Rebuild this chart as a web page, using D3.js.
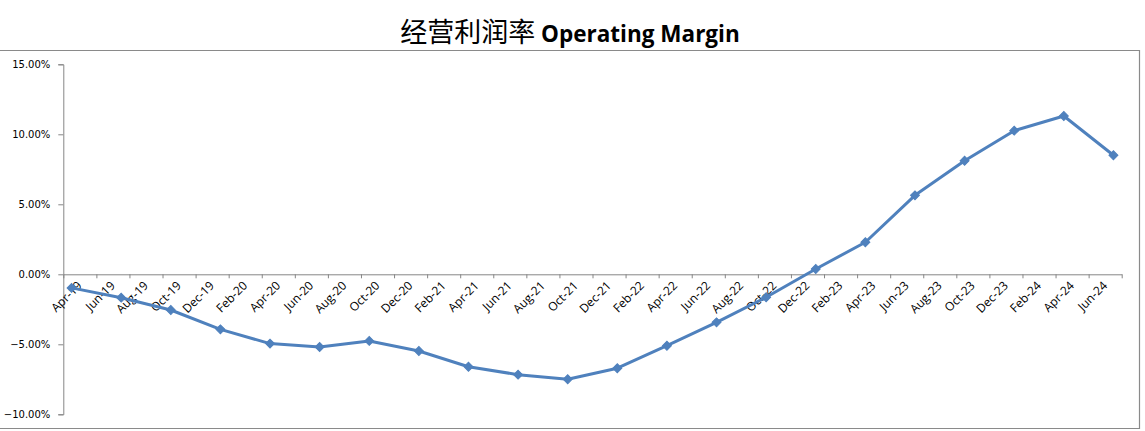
<!DOCTYPE html>
<html>
<head>
<meta charset="utf-8">
<script src="https://cdn.jsdelivr.net/npm/d3@7"></script>
<style>
  html, body { margin: 0; padding: 0; background: #fff; }
  svg { display: block; }
</style>
</head>
<body>
<svg id="chart" width="1145" height="431"></svg>
<script>
// ---- data (quarterly observations) ----
const pointMonths = ["2019-04","2019-07","2019-10","2020-01","2020-04","2020-07","2020-10","2021-01",
  "2021-04","2021-07","2021-10","2022-01","2022-04","2022-07","2022-10","2023-01",
  "2023-04","2023-07","2023-10","2024-01","2024-04","2024-07"];
const marginValues = [-0.97,-1.67,-2.55,-3.93,-4.95,-5.19,-4.76,-5.48,
  -6.60,-7.17,-7.50,-6.71,-5.10,-3.43,-1.64,0.38,
  2.29,5.64,8.11,10.26,11.31,8.50];
// axis: date axis by month, labels every 2 months
const axisStartMonth = "2019-04";
const axisMonthCount = 64;
const xTickLabels = ["Apr-19","Jun-19","Aug-19","Oct-19","Dec-19","Feb-20","Apr-20","Jun-20","Aug-20","Oct-20",
  "Dec-20","Feb-21","Apr-21","Jun-21","Aug-21","Oct-21","Dec-21","Feb-22","Apr-22","Jun-22",
  "Aug-22","Oct-22","Dec-22","Feb-23","Apr-23","Jun-23","Aug-23","Oct-23","Dec-23","Feb-24",
  "Apr-24","Jun-24"];
const yTicks = [-0.10,-0.05,0,0.05,0.10,0.15];
const titleCN = "经营利润率";
const titleEN = "Operating Margin";

// ---- drawing ----
const svg = d3.select("#chart");
const parseM = d3.timeParse("%Y-%m");
const start = parseM(axisStartMonth);
const monthIndex = s => d3.timeMonth.count(start, parseM(s));

const x = d3.scaleLinear().domain([0, axisMonthCount]).range([63.3, 1121.7]);
const y = d3.scaleLinear().domain([-0.10, 0.15]).range([414.3, 64.3]);
const axisColor = "#868686";

// chart border
svg.append("path")
  .attr("d", "M0,50.5 H1139.5 V428.5 H0")
  .attr("fill", "none").attr("stroke", "#8a8a8a").attr("stroke-width", 1.2);

// title
const t = svg.append("text").attr("x", 570).attr("y", 42).attr("text-anchor", "middle").attr("fill", "#000");
t.append("tspan").text(titleCN)
  .attr("font-family", "'Noto Sans CJK SC'").attr("font-size", 27).attr("font-weight", 400);
t.append("tspan").text(" " + titleEN)
  .attr("font-family", "'Open Sans'").attr("font-size", 22.5).attr("font-weight", 700);

// y axis
const yAxis = svg.append("g").attr("transform", "translate(63.3,0)")
  .call(d3.axisLeft(y).tickValues(yTicks).tickFormat(d3.format(".2%")).tickSize(5).tickPadding(8));
yAxis.selectAll("path, line").attr("stroke", axisColor);
yAxis.selectAll("text").attr("font-family", "'DejaVu Sans'").attr("font-size", 10).attr("fill", "#000");

// x axis at zero
const xAxis = svg.append("g").attr("transform", `translate(0,${y(0)})`)
  .call(d3.axisBottom(x).tickValues(d3.range(0, axisMonthCount + 1, 2)).tickFormat("").tickSize(4).tickSizeOuter(0));
xAxis.selectAll("path, line").attr("stroke", axisColor);

// x labels
svg.append("g").selectAll("text").data(xTickLabels).join("text")
  .attr("transform", (d, i) => `translate(${x(i * 2 + 0.5) + 5},${y(0) + 6}) rotate(-45)`)
  .attr("text-anchor", "end").attr("dy", "0.72em")
  .attr("font-family", "'Open Sans'").attr("font-size", 12).attr("fill", "#000")
  .text(d => d);

// line
const pts = pointMonths.map((m, i) => ({ mx: monthIndex(m) + 0.5, v: marginValues[i] / 100 }));
svg.append("path").datum(pts)
  .attr("d", d3.line().x(d => x(d.mx)).y(d => y(d.v)))
  .attr("fill", "none").attr("stroke", "#4F81BD").attr("stroke-width", 3).attr("stroke-linejoin", "round");

// markers (diamonds)
svg.append("g").selectAll("path").data(pts).join("path")
  .attr("transform", d => `translate(${x(d.mx)},${y(d.v)}) rotate(45)`)
  .attr("d", d3.symbol(d3.symbolSquare, 40))
  .attr("fill", "#4F81BD").attr("stroke", "#4F81BD").attr("stroke-width", 1);
</script>
</body>
</html>
